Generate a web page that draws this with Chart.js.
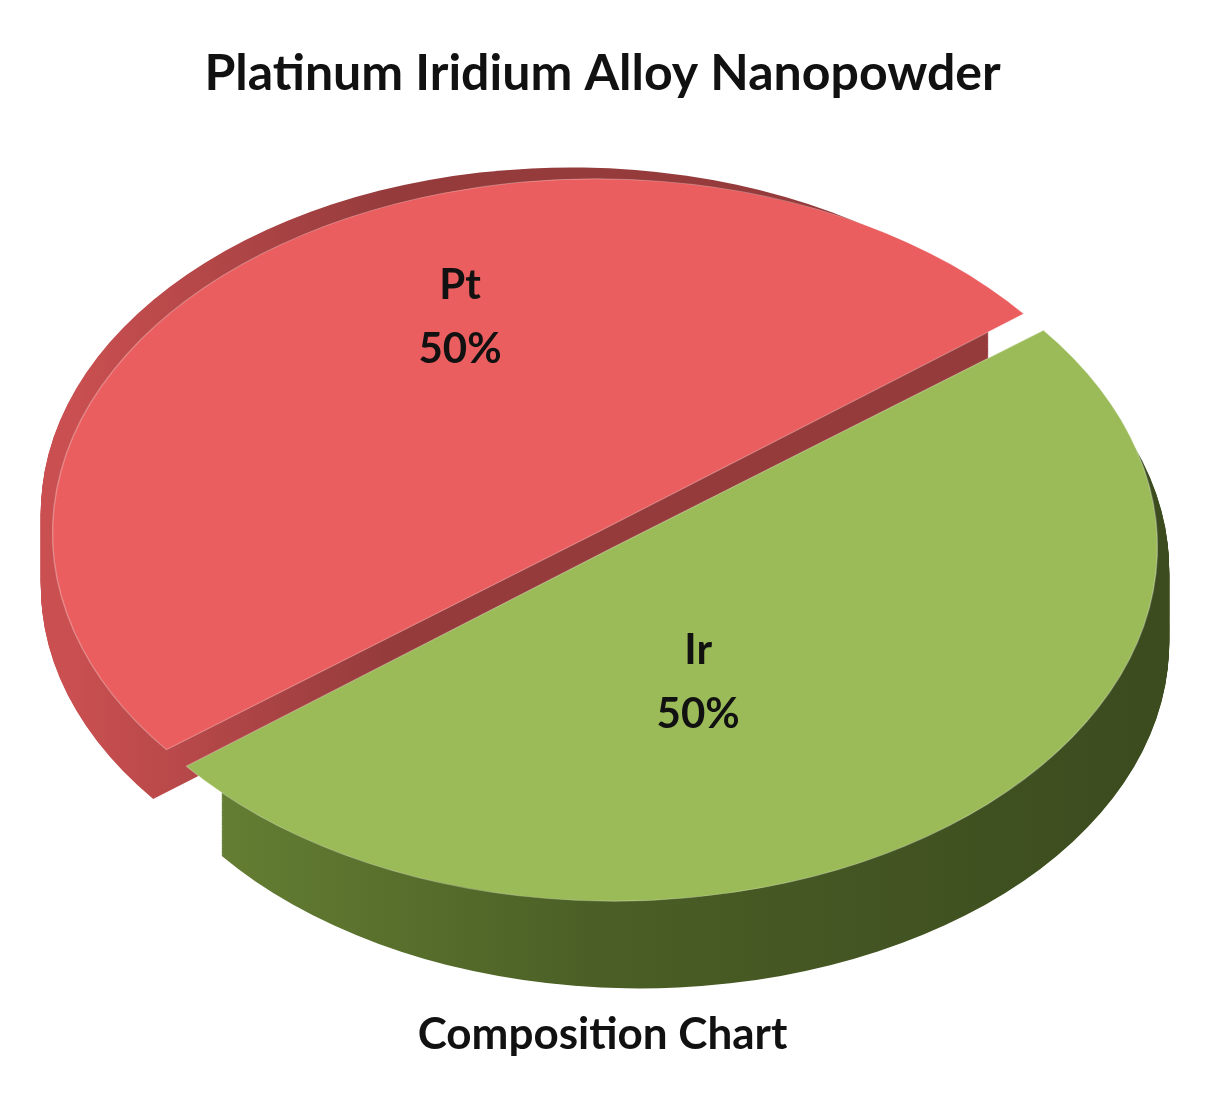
<!DOCTYPE html>
<html><head><meta charset="utf-8">
<script src="https://cdn.jsdelivr.net/npm/chart.js@4/dist/chart.umd.min.js"></script>
<style>html,body{margin:0;padding:0;background:#fff}#w{width:1205px;height:1105px}</style>
</head><body><div id="w"><canvas id="c"></canvas></div>
<script>
const categories=["Pt","Ir"];
const values=[50,50];
const topColors=["#EB5E5F","#9BBB59"];
const labelRadius=[0.7,0.45];
const TX=605,TY=540,RX=530,RY=345,DEPTH=75;
let T=null;
const fake3d={id:'fake3d',
 beforeDatasetsDraw(chart){
  const ctx=chart.ctx, meta=chart.getDatasetMeta(0), a0=meta.data[0];
  const r=a0.outerRadius, cx=a0.x, cy=a0.y, sx=RX/r, sy=RY/r;
  T={cx,cy,sx,sy};
  ctx.save();
  ctx.translate(TX,TY);ctx.scale(sx,sy);ctx.translate(-cx,-cy);
  const off=chart.data.datasets[0].offset;
  for(let d=Math.round(DEPTH/sy);d>=1;d--){
   meta.data.forEach((el,i)=>{
    const mid=(el.startAngle+el.endAngle)/2, ox=Math.cos(mid)*off, oy=Math.sin(mid)*off;
    ctx.beginPath();
    ctx.moveTo(el.x+ox,el.y+oy+d);
    ctx.arc(el.x+ox,el.y+oy+d,el.outerRadius,el.startAngle,el.endAngle);
    ctx.closePath();
    let g=ctx.createLinearGradient(cx-r,0,cx+r,0);
    if(i===1){g.addColorStop(0,'#6E8A38');g.addColorStop(0.5,'#4A5E25');g.addColorStop(1,'#3C4C1F');}
    else{g.addColorStop(0,'#C94F50');g.addColorStop(0.3,'#953B3C');g.addColorStop(1,'#953B3C');}
    ctx.fillStyle=g;ctx.fill();
   });
  }
 },
 afterDatasetsDraw(chart){
  chart.ctx.restore();
  const ctx=chart.ctx, meta=chart.getDatasetMeta(0), off=chart.data.datasets[0].offset;
  ctx.fillStyle='#111';ctx.textAlign='center';ctx.textBaseline='middle';
  ctx.font='bold 42px Lato, "Open Sans", sans-serif';
  meta.data.forEach((el,i)=>{
   const mid=(el.startAngle+el.endAngle)/2+Math.PI/12, rr=el.outerRadius*labelRadius[i];
   const px=el.x+Math.cos(mid)*rr, py=el.y+Math.sin(mid)*rr;
   const X=TX+(px-T.cx)*T.sx, Y=TY+(py-T.cy)*T.sy;
   ctx.fillText(categories[i],X,Y-32);
   ctx.fillText(values[i]+'%',X,Y+32);
  });
 }
};
new Chart(document.getElementById('c'),{
 type:'pie',
 data:{labels:categories,datasets:[{data:values,backgroundColor:topColors,borderColor:'rgba(255,255,255,0.3)',borderWidth:1,offset:40}]},
 options:{responsive:true,maintainAspectRatio:false,animation:false,rotation:232,
  layout:{padding:{top:20,bottom:20,left:200,right:200}},
  plugins:{legend:{display:false},tooltip:{enabled:false},
   title:{display:true,text:'Platinum Iridium Alloy Nanopowder',color:'#111',font:{size:50,weight:'bold',family:'Lato, "Open Sans", sans-serif'},padding:{top:24,bottom:10}},
   subtitle:{display:true,position:'bottom',text:'Composition Chart',color:'#111',font:{size:44,weight:'bold',family:'Lato, "Open Sans", sans-serif'},padding:{top:10,bottom:24}}}},
 plugins:[fake3d]
});
</script></body></html>
